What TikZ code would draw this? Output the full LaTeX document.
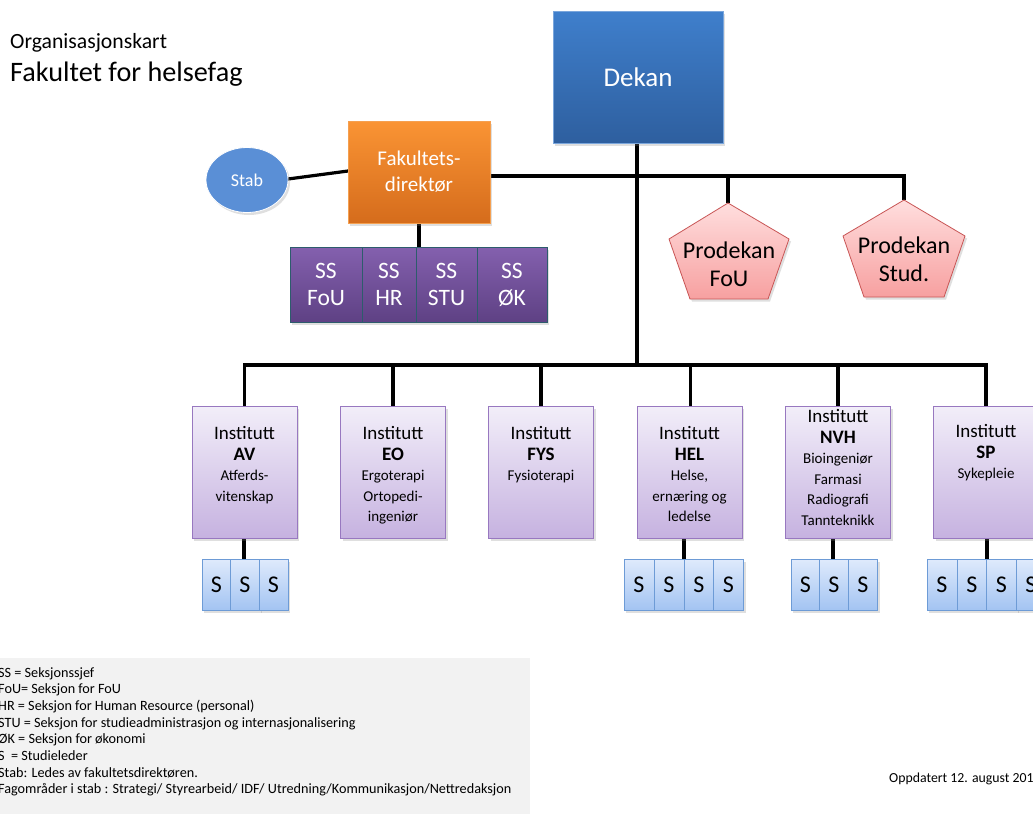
\documentclass[tikz,border=0pt]{standalone}
\usepackage{fontspec}
\setmainfont{Carlito}
\usetikzlibrary{shadows,calc,shapes.geometric}
\definecolor{dekantop}{HTML}{3F7FCC}
\definecolor{dekanbot}{HTML}{2E5F9F}
\definecolor{dekanbd}{HTML}{7AA6DC}
\definecolor{faktop}{HTML}{FA9434}
\definecolor{fakbot}{HTML}{D56C1C}
\definecolor{fakbd}{HTML}{F5A050}
\definecolor{stabfill}{HTML}{5A8FD6}
\definecolor{sstop}{HTML}{8460AE}
\definecolor{ssbot}{HTML}{5E4184}
\definecolor{ssbd}{HTML}{2D5C6C}
\definecolor{insttop}{HTML}{F2EEF9}
\definecolor{instbot}{HTML}{C6B2E0}
\definecolor{instbd}{HTML}{9878C0}
\definecolor{protop}{HTML}{FFDEDE}
\definecolor{probot}{HTML}{F7A0A0}
\definecolor{probd}{HTML}{C85555}
\definecolor{stop}{HTML}{DFEAFC}
\definecolor{sbot}{HTML}{A3C4F2}
\definecolor{sbd}{HTML}{6D9BD6}
\definecolor{leggray}{HTML}{F2F2F2}
\tikzset{
  conn/.style={line width=3.2pt, black},
  shad/.style={drop shadow={opacity=0.25, shadow xshift=2pt, shadow yshift=-2.5pt}},
  dekanbox/.style={shad, draw=dekanbd, line width=0.8pt, top color=dekantop, bottom color=dekanbot,
    minimum width=170pt, minimum height=132pt, inner sep=0pt, text=white, font=\fontsize{27}{32}\selectfont},
  fakbox/.style={shad, draw=fakbd, line width=0.8pt, top color=faktop, bottom color=fakbot,
    minimum width=142pt, minimum height=102pt, inner sep=0pt, text=white, align=center,
    font=\fontsize{21}{26}\selectfont},
  stabell/.style={shad, ellipse, fill=stabfill, draw=white, line width=0.8pt, minimum width=82pt,
    minimum height=65pt, inner sep=0pt, text=white, font=\fontsize{18}{22}\selectfont},
  ssbox/.style={shad, draw=ssbd, line width=1pt, top color=sstop, bottom color=ssbot,
    minimum height=75pt, inner sep=0pt, text=white, align=center, font=\fontsize{23.5}{27}\selectfont},
  instbox/.style={shad, draw=instbd, line width=1pt, top color=insttop, bottom color=instbot,
    minimum width=105pt, minimum height=132pt, inner sep=0pt},
  insttext/.style={anchor=north, align=center, inner sep=0pt, font=\fontsize{15}{20.5}\selectfont},
  ihead/.style={font=\fontsize{19}{21.5}\selectfont},
  sbox/.style={shad, draw=sbd, line width=0.8pt, top color=stop, bottom color=sbot,
    minimum width=29pt, minimum height=51pt, inner sep=0pt, font=\fontsize{24}{28}\selectfont},
  pent/.style={shad, draw=probd, line width=0.8pt, top color=protop, bottom color=probot},
  pentext/.style={align=center, inner sep=0pt, font=\fontsize{24}{28}\selectfont},
}
\newcommand{\ih}[1]{{\fontsize{19}{21.5}\selectfont #1}}
\newcommand{\ib}[1]{{\fontsize{19}{21.5}\selectfont\bfseries #1}}
\begin{document}
\begin{tikzpicture}[x=1pt,y=-1pt]
\useasboundingbox (0,0) rectangle (1033,814);
\clip (0,0) rectangle (1033,814);
\fill[white] (0,0) rectangle (1033,814);

% titles
\node[anchor=west, inner sep=0pt, font=\fontsize{21.7}{24}\selectfont] (t1) at (10,43) {Organisasjonskart};
\node[anchor=west, inner sep=0pt, font=\fontsize{28.2}{30}\selectfont] (t2) at (10,74) {Fakultet for helsefag};

% legend
\fill[leggray] (0,658) rectangle (530,814);
\node[anchor=north west, align=left, inner sep=0pt, font=\fontsize{14.2}{16.7}\selectfont] (legend) at (-2,667)
 {SS = Seksjonssjef\\
  FoU= Seksjon for FoU\\
  HR = Seksjon for Human Resource (personal)\\
  STU = Seksjon for studieadministrasjon og internasjonalisering\\
  ØK = Seksjon for økonomi\\
  S\ \ = Studieleder\\
  Stab: Ledes av fakultetsdirektøren.\\
  Fagområder i stab : Strategi/ Styrearbeid/ IDF/ Utredning/Kommunikasjon/Nettredaksjon};
\node[anchor=west, inner sep=0pt, font=\fontsize{13.8}{16}\selectfont] (oppd) at (889,779) {Oppdatert 12. august 201};

% coordinates for buses
\coordinate (bus) at (637,365);
\coordinate (hl) at (904,176);
\coordinate (hlfou) at (728,176);
\coordinate (pfoutop) at (728,203);
\coordinate (pstudtop) at (904,200);

% connectors (drawn first)
\draw[conn] (637,143) -- (bus);
\draw[conn] (490,176) -- (hl) -- (pstudtop);
\draw[conn] (hlfou) -- (pfoutop);
\draw[conn] (288,179) -- (348,171);
\draw[conn] (419,221) -- (419,247);
\draw[conn] (244.5,406) |- (bus) -| (986,406);
\draw[conn] (393,406) -- (393,365);
\draw[conn] (541,406) -- (541,365);
\draw[conn] (690.5,406) -- (690.5,365);
\draw[conn] (838,406) -- (838,365);
\draw[conn] (244,538) -- (244,559);
\draw[conn] (684,538) -- (684,559);
\draw[conn] (833,538) -- (833,559);
\draw[conn] (987,538) -- (987,559);

% Dekan
\node[dekanbox] (dekan) at (638,77) {Dekan};
% Fakultetsdirektør
\node[fakbox] (fak) at (419,172) {Fakultets-\\direktør};
% Stab
\node[stabell] (stab) at (247,180) {Stab};

% SS boxes
\node[ssbox, minimum width=72pt] (ssfou) at (326,284.5) {SS\\FoU};
\node[ssbox, minimum width=54pt] (sshr) at (389,284.5) {SS\\HR};
\node[ssbox, minimum width=61pt] (ssstu) at (446.5,284.5) {SS\\STU};
\node[ssbox, minimum width=70pt] (ssok) at (512,284.5) {SS\\ØK};

% Prodekan pentagons
\draw[pent] (728,203) -- (789,239) -- (768,299) -- (690,299) -- (669,239) -- cycle;
\node[pentext] (pfou) at (729,264) {Prodekan\\FoU};
\draw[pent] (904,200) -- (965,236) -- (944,297) -- (864,297) -- (843,236) -- cycle;
\node[pentext] (pstud) at (904,259) {Prodekan\\Stud.};

% Institutes
\node[instbox] (av) at (244.5,472) {};
\node[instbox] (eo) at (393,472) {};
\node[instbox] (fys) at (541,472) {};
\node[instbox] (hel) at (689.5,472) {};
\node[instbox] (nvh) at (838,472) {};
\node[instbox] (sp) at (986,472) {};

\node[insttext] (avt) at (244.5,426.5) {\ih{Institutt}\\\ib{AV}\\Atferds-\\vitenskap};
\node[insttext] (eot) at (393,426.5) {\ih{Institutt}\\\ib{EO}\\Ergoterapi\\Ortopedi-\\ingeniør};
\node[insttext] (fyst) at (541,426.5) {\ih{Institutt}\\\ib{FYS}\\Fysioterapi};
\node[insttext] (helt) at (689.5,426.5) {\ih{Institutt}\\\ib{HEL}\\Helse,\\ernæring og\\ledelse};
\node[insttext] (nvht) at (838,409.5) {\ih{Institutt}\\\ib{NVH}\\Bioingeniør\\Farmasi\\Radiografi\\Tannteknikk};
\node[insttext] (spt) at (986,424.5) {\ih{Institutt}\\\ib{SP}\\Sykepleie};

% S boxes
\foreach \n/\x in {av1/216.5, av2/245, av3/273.5} {\node[sbox] (\n) at (\x,584.5) {S};}
\foreach \n/\x in {hel1/639, hel2/669, hel3/699, hel4/728.5} {\node[sbox, minimum width=30pt] (\n) at (\x,584.5) {S};}
\foreach \n/\x in {nvh1/805.5, nvh2/834, nvh3/863} {\node[sbox] (\n) at (\x,584.5) {S};}
\foreach \n/\x in {sp1/942, sp2/972, sp3/1001.5, sp4/1031} {\node[sbox, minimum width=30pt] (\n) at (\x,584.5) {S};}
\end{tikzpicture}
\end{document}
